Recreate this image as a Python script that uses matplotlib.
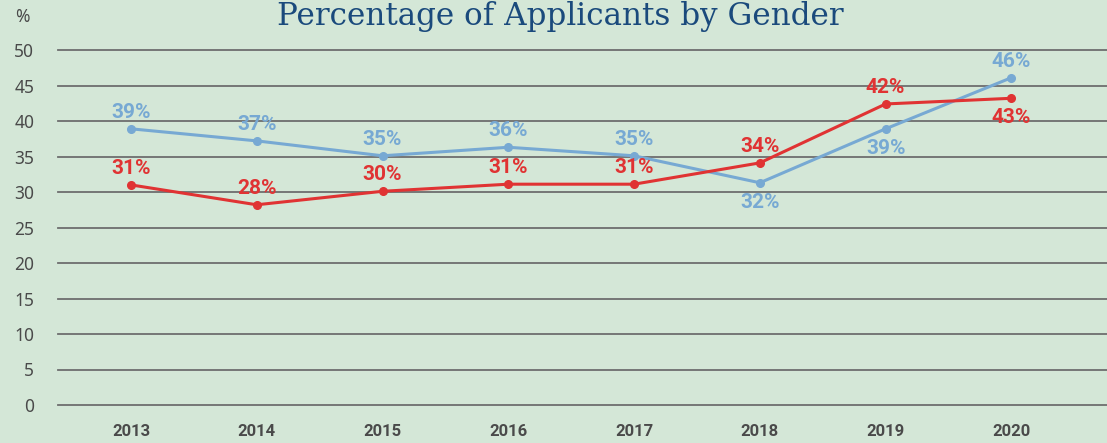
import matplotlib
matplotlib.use("Agg")
import matplotlib.pyplot as plt

years = [2013, 2014, 2015, 2016, 2017, 2018, 2019, 2020]
blue_vals = [38.9, 37.2, 35.1, 36.3, 35.1, 31.3, 38.9, 46.1]
red_vals = [31.0, 28.2, 30.1, 31.1, 31.1, 34.1, 42.4, 43.2]
blue_labels = ["39%", "37%", "35%", "36%", "35%", "32%", "39%", "46%"]
red_labels = ["31%", "28%", "30%", "31%", "31%", "34%", "42%", "43%"]
blue_below = [False, False, False, False, False, True, True, False]
red_below = [False, False, False, False, False, False, False, True]
yticks = [0, 5, 10, 15, 20, 25, 30, 35, 40, 45, 50]

BG = "#d4e7d7"
BLUE = "#77a9d3"
RED = "#e03333"
GRID = "#6e6e6e"
TXT = "#4a4a4a"

fig = plt.figure(figsize=(11.07, 4.43), dpi=100, facecolor=BG)
ax = fig.add_axes([58/1107, 1-405/443, 1-58/1107, (405-50)/443])
ax.set_facecolor(BG)
ax.set_xlim(2012.42, 2020.76)
ax.set_ylim(0, 50)
for s in ax.spines.values():
    s.set_visible(False)
for t in yticks:
    ax.axhline(t, color=GRID, lw=1.3, zorder=1, clip_on=False)
ax.set_yticks(yticks)
ax.set_yticklabels([str(t) for t in yticks], fontsize=12.5, color=TXT, family="Noto Sans")
ax.set_xticks(years)
ax.set_xticklabels([str(y) for y in years], fontsize=12, color=TXT, family="Roboto", fontweight="bold")
ax.tick_params(axis="both", length=0)
ax.tick_params(axis="y", pad=17)
ax.tick_params(axis="x", pad=14)

ax.plot(years, blue_vals, color=BLUE, lw=2.2, marker="o", ms=5.5, zorder=3, clip_on=False)
ax.plot(years, red_vals, color=RED, lw=2.2, marker="o", ms=5.5, zorder=4, clip_on=False)

for x, v, lab, below in zip(years, blue_vals, blue_labels, blue_below):
    ax.annotate(lab, (x, v), xytext=(0, -14 if below else 12), textcoords="offset points",
                ha="center", va="center", color=BLUE, fontsize=15, fontweight="bold",
                family="Roboto", zorder=5)
for x, v, lab, below in zip(years, red_vals, red_labels, red_below):
    ax.annotate(lab, (x, v), xytext=(0, -14 if below else 12), textcoords="offset points",
                ha="center", va="center", color=RED, fontsize=15, fontweight="bold",
                family="Roboto", zorder=5)

fig.text(22/1107, 1-17/443, "%", fontsize=12.5, color=TXT, ha="center", va="center", family="Noto Sans")
fig.text(560/1107, 1-16/443, "Percentage of Applicants by Gender", fontsize=22.3, color="#1a4a7c",
         ha="center", va="center", family="DejaVu Serif")

fig.savefig("out.png", dpi=100, facecolor=BG)
